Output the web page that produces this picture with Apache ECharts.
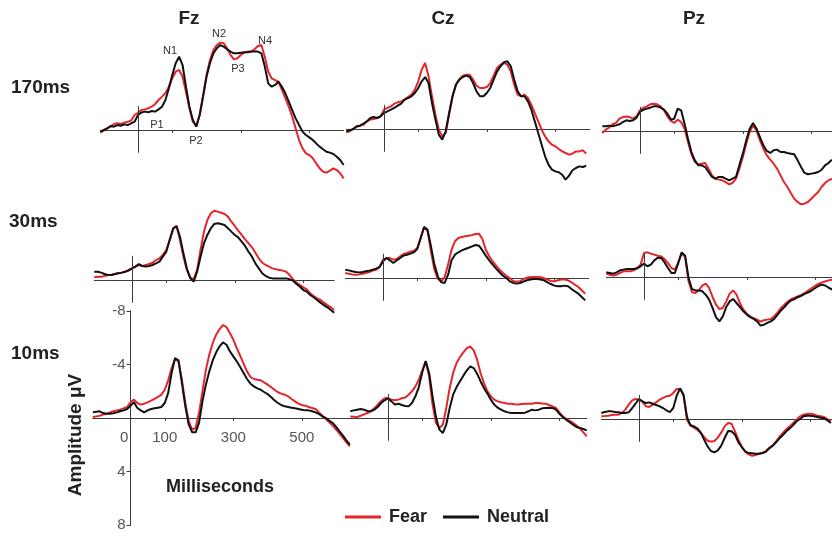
<!DOCTYPE html>
<html><head><meta charset="utf-8">
<script src="https://cdn.jsdelivr.net/npm/echarts@6/dist/echarts.min.js"></script>
<style>html,body{margin:0;padding:0;background:#fff}#c{width:832px;height:538px}</style>
</head><body><div id="c"></div>
<script>
// ---------- DATA ----------
const TIME = [-110,-100,-90,-80,-70,-60,-50,-40,-30,-20,-10,0,10,20,30,40,50,60,70,80,90,100,110,120,130,140,150,160,170,180,190,200,210,220,230,240,250,260,270,280,290,300,310,320,330,340,350,360,370,380,390,400,410,420,430,440,450,460,470,480,490,500,510,520,530,540,550,560,570,580,590,600,610,620,630,640];
const ELECTRODES = ['Fz','Cz','Pz'];
const CONDITIONS = ['170ms','30ms','10ms'];
const SERIES_NAMES = ['Fear','Neutral'];
const X_TICK_LABELS = [0,100,300,500];
const X_TICKS = [100,300,500];
const Y_TICK_LABELS = [-8,-4,4,8];
const PEAK_LABELS = ['N1','N2','P3','N4','P1','P2'];
const X_AXIS_NAME = 'Milliseconds';
const Y_AXIS_NAME = 'Amplitude \u03bcV';

// amplitude in microvolts, one value per TIME entry (from -110 ms)
const fz170Fear = [0.2,0.05,-0.12,-0.25,-0.45,-0.5,-0.45,-0.55,-0.62,-0.7,-1.12,
-1.29,-1.49,-1.54,-1.62,-1.74,-1.94,-2.24,-2.49,-2.74,-3.23,
-3.86,-4.35,-4.48,-3.98,-2.86,-1.62,-0.62,-0.3,-1.12,-2.61,
-4.1,-5.22,-5.97,-6.34,-6.52,-6.47,-6.1,-5.6,-5.27,-5.35,
-5.6,-5.77,-5.85,-5.85,-6.02,-6.27,-6.34,-5.47,-4.35,-3.86,
-3.73,-3.6,-2.99,-2.36,-1.74,-1.0,-0.12,0.75,1.37,1.74,
1.87,2.11,2.49,2.86,3.11,3.18,3.03,2.86,2.99,3.23,3.61];
const fz170Neutral = [0.12,0.0,-0.12,-0.3,-0.25,-0.37,-0.32,-0.42,-0.37,-0.5,-0.62,
-1.12,-1.3,-1.37,-1.32,-1.42,-1.37,-1.54,-1.74,-2.24,-3.1,
-4.1,-4.98,-5.47,-4.85,-3.23,-1.74,-0.75,-0.25,-1.12,-2.49,
-3.98,-4.98,-5.72,-6.1,-6.34,-6.22,-6.02,-5.85,-5.72,-5.72,
-5.77,-5.8,-5.8,-5.85,-5.85,-5.85,-5.72,-4.73,-3.48,-3.23,
-3.36,-3.6,-3.23,-2.74,-2.11,-1.49,-0.87,-0.37,0.12,0.37,
0.55,0.75,1.0,1.24,1.44,1.62,1.69,1.79,1.99,2.24,2.61];
const cz170Fear = [0.25,0.17,0.0,-0.15,-0.25,-0.32,-0.57,-0.7,-0.75,-0.82,-0.95,
-1.44,-1.57,-1.69,-1.89,-1.99,-2.06,-2.19,-2.39,-2.56,-2.94,
-3.56,-4.43,-4.93,-3.93,-2.44,-1.07,0.05,0.55,0.3,-1.07,
-2.44,-3.31,-3.73,-3.98,-4.05,-4.05,-3.68,-3.23,-3.06,-3.06,
-3.13,-3.43,-3.98,-4.55,-4.8,-4.93,-4.8,-4.3,-3.31,-2.56,
-2.44,-2.56,-2.31,-1.82,-1.19,-0.57,0.05,0.55,0.92,1.17,
1.29,1.49,1.67,1.79,1.92,1.84,1.67,1.67,1.59,1.84];
const cz170Neutral = [0.17,0.1,0.0,-0.2,-0.25,-0.4,-0.57,-0.82,-0.9,-0.82,-0.95,
-1.19,-1.32,-1.44,-1.57,-1.74,-1.89,-2.19,-2.31,-2.44,-2.69,
-3.06,-3.56,-3.88,-3.43,-1.94,-0.7,0.42,0.8,0.17,-1.19,
-2.44,-3.31,-3.68,-3.88,-3.98,-3.88,-3.43,-2.81,-2.44,-2.44,
-2.69,-3.06,-3.68,-4.3,-4.68,-4.98,-5.05,-4.68,-3.68,-2.81,
-2.44,-2.44,-2.06,-1.44,-0.57,0.3,1.17,2.04,2.66,3.03,
3.16,3.23,3.41,3.78,3.48,3.08,2.91,2.79,2.84,2.74];
const pz170Fear = [0.15,-0.1,-0.25,-0.5,-0.6,-0.92,-1.04,-1.09,-1.04,-0.92,-1.09,
-1.54,-1.74,-1.84,-1.99,-2.04,-1.99,-1.84,-1.54,-1.09,-0.75,
-0.6,-0.85,-0.67,-0.17,0.82,1.74,2.31,2.49,2.44,2.39,
2.81,3.31,3.56,3.63,3.68,3.81,3.98,3.88,3.56,2.81,
1.94,0.95,0.07,-0.42,-0.05,0.7,1.32,1.82,2.14,2.44,
2.81,3.31,3.81,4.18,4.63,5.05,5.3,5.47,5.42,5.3,
5.05,4.8,4.55,4.18,3.88,3.68,3.56];
const pz170Neutral = [-0.35,-0.35,-0.4,-0.35,-0.42,-0.5,-0.67,-0.8,-0.75,-0.8,-1.0,
-1.42,-1.59,-1.67,-1.74,-1.84,-1.84,-1.74,-1.59,-1.29,-0.85,
-0.92,-1.67,-1.54,-0.55,0.57,1.57,2.19,2.56,2.56,2.69,
3.06,3.43,3.56,3.43,3.43,3.56,3.68,3.56,3.43,2.56,
1.69,0.7,-0.17,-0.6,-0.17,0.45,1.07,1.49,1.64,1.44,
1.39,1.57,1.57,1.64,1.69,1.74,2.19,2.69,3.13,3.23,
3.18,3.13,3.06,2.89,2.56,2.39,2.14];
const fz30Fear = [-0.2,-0.25,-0.25,-0.3,-0.37,-0.37,-0.45,-0.5,-0.55,-0.62,-0.75,
-0.87,-1.0,-1.12,-1.04,-1.12,-1.19,-1.29,-1.49,-1.62,-1.87,
-2.24,-2.99,-3.78,-4.03,-2.99,-1.74,-0.75,-0.2,-0.05,-0.75,
-2.24,-3.61,-4.48,-4.98,-5.17,-5.1,-5.02,-4.93,-4.73,-4.35,
-4.03,-3.68,-3.36,-3.03,-2.74,-2.44,-2.04,-1.62,-1.29,-1.12,
-1.0,-0.87,-0.8,-0.75,-0.7,-0.62,-0.37,-0.05,0.2,0.37,
0.55,0.7,1.0,1.19,1.37,1.49,1.69,1.87,2.04,2.24];
const fz30Neutral = [-0.62,-0.62,-0.55,-0.45,-0.37,-0.37,-0.45,-0.5,-0.55,-0.62,-0.7,
-0.87,-1.0,-1.19,-1.04,-1.0,-1.04,-1.12,-1.24,-1.37,-1.74,
-2.11,-2.99,-3.86,-4.03,-3.23,-1.99,-0.87,-0.12,0.12,-0.62,
-1.74,-2.74,-3.36,-3.86,-4.18,-4.23,-4.18,-4.1,-3.86,-3.61,
-3.36,-3.18,-2.86,-2.54,-2.11,-1.74,-1.24,-0.87,-0.5,-0.3,
-0.17,-0.12,-0.12,-0.12,-0.12,-0.12,-0.05,0.05,0.3,0.5,
0.75,0.87,1.12,1.29,1.49,1.69,1.87,2.04,2.24,2.44];
const cz30Fear = [-0.37,-0.32,-0.27,-0.25,-0.27,-0.32,-0.37,-0.45,-0.55,-0.62,-0.82,
-1.37,-1.49,-1.49,-1.37,-1.42,-1.62,-1.79,-1.87,-1.97,-2.01,
-2.24,-2.99,-3.81,-3.48,-1.99,-0.62,0.07,0.25,-0.07,-1.0,
-2.11,-2.74,-2.99,-3.06,-3.11,-3.16,-3.21,-3.28,-3.31,-2.91,
-2.11,-1.62,-1.24,-0.92,-0.62,-0.37,-0.17,0.02,0.22,0.27,
0.25,0.07,-0.02,-0.07,-0.07,-0.07,-0.05,0.02,0.12,0.22,
0.25,0.17,0.12,0.12,0.17,0.32,0.5,0.67,0.92,1.17];
const cz30Neutral = [-0.62,-0.57,-0.5,-0.45,-0.42,-0.45,-0.5,-0.55,-0.62,-0.7,-0.82,
-1.24,-1.49,-1.32,-1.12,-1.32,-1.49,-1.67,-1.74,-1.82,-1.92,
-2.16,-2.99,-3.81,-3.61,-2.36,-1.0,-0.12,0.32,0.37,-0.25,
-1.32,-1.74,-1.92,-2.06,-2.16,-2.26,-2.36,-2.46,-2.41,-2.06,
-1.67,-1.32,-1.0,-0.7,-0.42,-0.17,0.0,0.25,0.37,0.42,
0.37,0.27,0.17,0.12,0.07,0.07,0.12,0.17,0.32,0.45,
0.57,0.62,0.62,0.57,0.62,0.82,1.0,1.17,1.42,1.67];
const pz30Fear = [-0.25,-0.17,-0.1,-0.17,-0.3,-0.42,-0.42,-0.42,-0.5,-0.67,-0.92,
-1.79,-1.84,-1.74,-1.67,-1.59,-1.54,-1.34,-1.04,-0.67,-0.55,
-1.09,-1.79,-1.49,0.32,1.14,1.19,1.0,0.65,0.5,0.82,
1.49,2.06,2.39,2.31,1.82,1.24,1.0,1.32,1.94,2.44,
2.74,2.94,3.08,3.18,3.33,3.23,3.18,3.13,2.94,2.64,
2.31,2.06,1.82,1.64,1.54,1.44,1.32,1.19,0.99,0.82,
0.65,0.5,0.4,0.32,0.25,0.2,0.15];
const pz30Neutral = [-0.35,-0.3,-0.25,-0.35,-0.5,-0.55,-0.6,-0.6,-0.6,-0.65,-0.8,
-1.0,-0.8,-0.92,-1.24,-1.44,-1.42,-1.09,-0.67,-0.3,-0.3,
-1.04,-1.84,-1.59,0.07,0.9,1.0,1.0,1.07,1.32,1.69,
2.31,2.99,3.31,2.94,2.24,1.82,1.64,1.94,2.24,2.56,
2.81,2.99,3.13,3.31,3.63,3.56,3.43,3.31,3.13,2.81,
2.49,2.24,1.94,1.74,1.64,1.49,1.39,1.24,1.14,0.99,
0.82,0.65,0.57,0.65,0.82,0.95,1.0];
const fz10Fear = [-0.07,-0.12,-0.17,-0.25,-0.32,-0.42,-0.5,-0.57,-0.62,-0.72,-0.82,
-1.17,-1.37,-1.12,-1.0,-1.07,-1.17,-1.29,-1.42,-1.57,-1.74,
-2.11,-2.81,-3.73,-4.4,-4.23,-2.86,-1.12,0.25,0.87,0.75,
-0.37,-1.99,-3.61,-4.73,-5.6,-6.22,-6.64,-6.94,-6.79,-6.34,
-5.85,-5.22,-4.65,-4.05,-3.48,-3.06,-2.91,-2.86,-2.81,-2.66,
-2.49,-2.31,-2.11,-1.92,-1.82,-1.74,-1.62,-1.42,-1.24,-1.07,
-0.97,-0.92,-0.82,-0.75,-0.67,-0.42,-0.17,0.07,0.32,0.57,
0.87,1.17,1.49,1.82,2.11];
const fz10Neutral = [-0.42,-0.47,-0.5,-0.37,-0.32,-0.32,-0.35,-0.42,-0.5,-0.57,-0.67,
-0.92,-1.17,-0.75,-0.57,-0.42,-0.57,-0.67,-0.72,-0.77,-0.82,
-1.12,-1.87,-3.36,-4.48,-4.3,-2.61,-0.87,0.5,1.07,1.07,
0.37,-1.24,-2.49,-3.48,-4.3,-4.9,-5.35,-5.65,-5.47,-4.98,
-4.6,-4.23,-3.81,-3.36,-2.91,-2.56,-2.36,-2.21,-2.11,-1.94,
-1.79,-1.57,-1.32,-1.12,-0.97,-0.87,-0.82,-0.77,-0.72,-0.67,
-0.62,-0.57,-0.57,-0.5,-0.42,-0.3,-0.12,0.0,0.2,0.37,
0.67,1.0,1.32,1.67,1.99];
const cz10Fear = [-0.12,-0.1,-0.07,-0.17,-0.27,-0.37,-0.52,-0.72,-1.0,-1.27,-1.47,
-1.49,-1.37,-1.32,-1.37,-1.47,-1.52,-1.74,-1.99,-2.36,-2.86,
-3.56,-4.2,-3.11,-1.0,0.37,0.75,0.5,-0.75,-2.24,-3.36,
-4.1,-4.55,-4.9,-5.22,-5.35,-5.05,-4.35,-3.36,-2.61,-1.99,
-1.62,-1.37,-1.24,-1.17,-1.12,-1.07,-1.07,-1.02,-1.0,-1.04,
-1.07,-1.07,-1.07,-1.12,-1.12,-1.09,-1.07,-0.97,-0.87,-0.75,
-0.42,-0.12,0.07,0.22,0.37,0.57,0.77,1.07,1.37];
const cz10Neutral = [-0.5,-0.57,-0.62,-0.67,-0.62,-0.52,-0.5,-0.62,-0.82,-1.12,-1.32,
-1.47,-1.24,-1.0,-1.07,-0.97,-0.9,-0.87,-1.12,-1.62,-2.31,
-3.41,-4.25,-3.36,-1.62,-0.07,0.87,1.12,0.5,-0.75,-1.74,
-2.31,-2.74,-3.16,-3.56,-3.86,-3.73,-3.31,-2.74,-2.24,-1.82,
-1.37,-1.0,-0.77,-0.62,-0.5,-0.42,-0.37,-0.37,-0.37,-0.37,
-0.4,-0.5,-0.62,-0.57,-0.62,-0.72,-0.75,-0.77,-0.75,-0.62,
-0.32,-0.07,0.12,0.32,0.5,0.67,0.75,0.82,0.92];
const pz10Fear = [-0.2,-0.22,-0.25,-0.3,-0.32,-0.32,-0.45,-0.7,-1.07,-1.39,-1.49,
-1.44,-1.29,-0.95,-0.9,-1.07,-1.24,-1.44,-1.57,-1.69,-1.74,
-1.94,-2.24,-2.24,-1.74,0.05,0.5,0.65,0.8,1.04,1.34,
1.62,1.69,1.64,1.39,1.0,0.55,0.3,0.35,0.92,1.54,
2.09,2.44,2.64,2.74,2.69,2.59,2.54,2.41,2.16,1.99,
1.67,1.34,1.04,0.75,0.55,0.3,0.05,-0.2,-0.32,-0.37,
-0.4,-0.35,-0.25,-0.2,-0.15,0.0,0.15];
const pz10Neutral = [-0.45,-0.52,-0.57,-0.57,-0.52,-0.5,-0.45,-0.45,-0.5,-0.82,-1.14,
-1.49,-1.32,-1.19,-1.24,-1.14,-1.04,-0.95,-0.82,-0.65,-0.52,
-0.82,-1.74,-2.29,-1.82,-0.15,0.45,0.55,0.7,1.0,1.54,
2.04,2.39,2.49,2.34,1.99,1.42,0.9,0.92,1.17,1.74,
2.09,2.41,2.54,2.56,2.59,2.59,2.54,2.44,2.19,1.99,
1.74,1.44,1.19,0.92,0.7,0.45,0.17,0.0,-0.2,-0.25,
-0.25,-0.2,-0.15,-0.1,-0.05,0.1,0.3];

// ---------- LAYOUT (positions/styles) ----------
const PX_PER_MS = 0.3427, PX_PER_UV = 13.4, T_MIN = -110;
const PANELS = [
  {x0:138,   zeroY:130, tEnd:600, data:[fz170Fear, fz170Neutral]},
  {x0:384,   zeroY:129, tEnd:600, data:[cz170Fear, cz170Neutral]},
  {x0:640,   zeroY:131, tEnd:640, data:[pz170Fear, pz170Neutral]},
  {x0:132,   zeroY:280, tEnd:590, data:[fz30Fear, fz30Neutral]},
  {x0:383,   zeroY:278, tEnd:600, data:[cz30Fear, cz30Neutral]},
  {x0:644,   zeroY:277, tEnd:640, data:[pz30Fear, pz30Neutral]},
  {x0:130.5, zeroY:418, tEnd:640, data:[fz10Fear, fz10Neutral], axes:true},
  {x0:388,   zeroY:418, tEnd:580, data:[cz10Fear, cz10Neutral]},
  {x0:639,   zeroY:419, tEnd:640, data:[pz10Fear, pz10Neutral]}
];
const COLORS = ['#e3262b', '#111111'];
const FONT = '"Liberation Sans", Arial, sans-serif';
const AXIS_COLOR = '#3c3c3c';
const LABEL_STYLE = {color: '#555', fontFamily: FONT, fontSize: 15};

const grids = [], xAxes = [], yAxes = [], series = [];
PANELS.forEach((p, i) => {
  grids.push({left: p.x0 + T_MIN * PX_PER_MS, top: p.zeroY - 8 * PX_PER_UV,
              width: (p.tEnd - T_MIN) * PX_PER_MS, height: 16 * PX_PER_UV,
              outerBoundsMode: 'none', containLabel: false});
  xAxes.push({
    gridIndex: i, type: 'value', min: T_MIN, max: p.tEnd,
    axisLine: {show: true, onZero: true, lineStyle: {color: AXIS_COLOR, width: 1}},
    axisTick: {show: true, customValues: X_TICKS, length: 3, lineStyle: {color: AXIS_COLOR}},
    axisLabel: {show: false}, splitLine: {show: false}
  });
  yAxes.push({gridIndex: i, type: 'value', min: -8, max: 8, inverse: true, show: false});
  SERIES_NAMES.forEach((name, k) => {
    const s = {
      type: 'line', name: name, xAxisIndex: i, yAxisIndex: i,
      data: p.data[k].map((v, j) => [TIME[j], v]),
      showSymbol: false, symbol: 'none', animation: false, silent: true,
      lineStyle: {color: COLORS[k], width: 2}, itemStyle: {color: COLORS[k]}, z: 2 + k
    };
    if (k === 1 && !p.axes) {
      s.markLine = {silent: true, symbol: ['none', 'none'], animation: false,
        label: {show: false}, lineStyle: {color: AXIS_COLOR, width: 1, type: 'solid'},
        data: [[{coord: [0, -1.8]}, {coord: [0, 1.7]}]]};
    }
    series.push(s);
  });
});

// the labelled panel (Fz, 10ms): extra coordinate systems whose edges sit on the zero lines
const A = PANELS[6];
// x-axis labels along the zero line
grids.push({left: A.x0 + T_MIN * PX_PER_MS, top: A.zeroY - 8 * PX_PER_UV,
            width: (A.tEnd - T_MIN) * PX_PER_MS, height: 8 * PX_PER_UV, outerBoundsMode: 'none'});
xAxes.push({gridIndex: 9, type: 'value', min: T_MIN, max: A.tEnd, position: 'bottom',
  axisLine: {show: false}, axisTick: {show: false}, splitLine: {show: false},
  axisLabel: Object.assign({show: true, customValues: X_TICK_LABELS, margin: 12,
    formatter: v => v === 0 ? '0   ' : String(v)}, LABEL_STYLE)});
yAxes.push({gridIndex: 9, type: 'value', min: -8, max: 0, inverse: true, show: false});
// amplitude axis at time zero
grids.push({left: A.x0, top: A.zeroY - 8 * PX_PER_UV,
            width: A.tEnd * PX_PER_MS, height: 16 * PX_PER_UV, outerBoundsMode: 'none'});
xAxes.push({gridIndex: 10, type: 'value', min: 0, max: A.tEnd, show: false});
yAxes.push({gridIndex: 10, type: 'value', min: -8, max: 8, inverse: true, position: 'left',
  axisLine: {show: true, onZero: false, lineStyle: {color: AXIS_COLOR, width: 1}},
  axisTick: {show: true, customValues: Y_TICK_LABELS, length: 4, lineStyle: {color: AXIS_COLOR}},
  axisLabel: Object.assign({show: true, customValues: Y_TICK_LABELS, margin: 5}, LABEL_STYLE),
  splitLine: {show: false}});

function txt(text, x, y, font, align, fill, rot) {
  return {type: 'text', x: x, y: y, rotation: rot || 0, silent: true,
    style: {text: text, font: font, fill: fill || '#222', textAlign: align || 'center', textVerticalAlign: 'middle'}};
}
const graphics = [
  txt(ELECTRODES[0], 189, 19, 'bold 19px ' + FONT),
  txt(ELECTRODES[1], 443, 19, 'bold 19px ' + FONT),
  txt(ELECTRODES[2], 694, 19, 'bold 19px ' + FONT),
  txt(CONDITIONS[0], 11, 88, 'bold 19px ' + FONT, 'left'),
  txt(CONDITIONS[1], 9, 222, 'bold 19px ' + FONT, 'left'),
  txt(CONDITIONS[2], 11, 354, 'bold 19px ' + FONT, 'left'),
  txt(X_AXIS_NAME, 166, 487, 'bold 18px ' + FONT, 'left'),
  txt(Y_AXIS_NAME, 76, 435, 'bold 19px ' + FONT, 'center', '#222', Math.PI / 2),
  txt(PEAK_LABELS[0], 170, 51, '11px ' + FONT, 'center', '#333'),
  txt(PEAK_LABELS[1], 219, 34, '11px ' + FONT, 'center', '#333'),
  txt(PEAK_LABELS[2], 238, 69, '11px ' + FONT, 'center', '#333'),
  txt(PEAK_LABELS[3], 265, 41, '11px ' + FONT, 'center', '#333'),
  txt(PEAK_LABELS[4], 157, 125, '11px ' + FONT, 'center', '#333'),
  txt(PEAK_LABELS[5], 196, 141, '11px ' + FONT, 'center', '#333')
];

const chart = echarts.init(document.getElementById('c'), null, {renderer: 'canvas'});
chart.setOption({
  backgroundColor: '#fff',
  animation: false,
  grid: grids, xAxis: xAxes, yAxis: yAxes, series: series,
  legend: {data: SERIES_NAMES, left: 340, top: 503, icon: 'rect', itemWidth: 36, itemHeight: 3,
           itemGap: 16, textStyle: {fontFamily: FONT, fontWeight: 'bold', fontSize: 18, color: '#222',
           padding: [0, 0, 0, 3]}},
  graphic: graphics
});
</script></body></html>
